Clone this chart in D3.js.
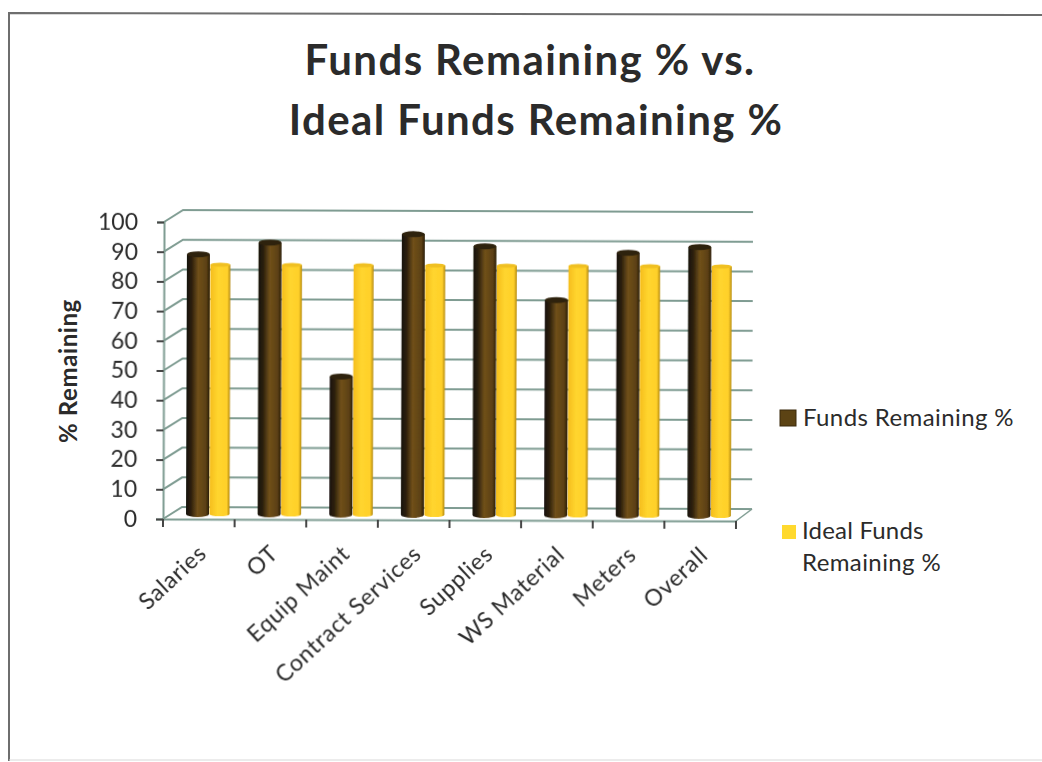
<!DOCTYPE html>
<html>
<head>
<meta charset="utf-8">
<script src="https://cdn.jsdelivr.net/npm/d3@7"></script>
<style>
html, body { margin: 0; padding: 0; background: #fff; }
svg { display: block; }
text { font-family: Lato, "Open Sans", sans-serif; fill: #2b2b2b; }
</style>
</head>
<body>
<script>
const width = 1042;
const height = 762;

const categories = ["Salaries", "OT", "Equip Maint", "Contract Services", "Supplies", "WS Material", "Meters", "Overall"];
const fundsRemaining = [87.5, 91.5, 46.5, 94.5, 90.5, 72.5, 88.5, 90.5];
const idealRemaining = [84, 84, 84, 84, 84, 84, 84, 84];
const yTicks = [0, 10, 20, 30, 40, 50, 60, 70, 80, 90, 100];
const seriesNames = ["Funds Remaining %", "Ideal Funds Remaining %"];

const plotLeft = 163, plotRight = 736, plotBottom = 519, plotTop = 222;
const depthX = 19, depthY = -12;

const svg = d3.select("body").append("svg")
    .attr("width", width)
    .attr("height", height)
    .attr("viewBox", [0, 0, width, height]);

const defs = svg.append("defs");

function addGradient(id, stops) {
    const g = defs.append("linearGradient").attr("id", id);
    stops.forEach(function(s) {
        g.append("stop").attr("offset", s[0]).attr("stop-color", s[1]);
    });
}
addGradient("darkBar", [[0, "#17120a"], [0.22, "#2d200c"], [0.5, "#70501a"], [0.85, "#5c4013"], [1, "#2c1f0a"]]);
addGradient("yellowBar", [[0, "#f5bd1c"], [0.4, "#ffd52e"], [0.85, "#ffd02a"], [1, "#b58a10"]]);

defs.append("filter").attr("id", "soft")
    .append("feGaussianBlur").attr("stdDeviation", 0.45);

// scanned page border
svg.append("path")
    .attr("d", "M9,761 L9,13 L1042,15")
    .attr("fill", "none")
    .attr("stroke", "#6e6e6e")
    .attr("stroke-width", 2);
svg.append("line")
    .attr("x1", 9).attr("x2", 1042).attr("y1", 760).attr("y2", 760)
    .attr("stroke", "#d8d8d8");

// title
svg.append("text")
    .attr("x", 530).attr("y", 75)
    .attr("text-anchor", "middle")
    .attr("font-size", 42).attr("font-weight", 700)
    .attr("letter-spacing", 1.4)
    .text("Funds Remaining % vs.");
svg.append("text")
    .attr("x", 536).attr("y", 135)
    .attr("text-anchor", "middle")
    .attr("font-size", 42).attr("font-weight", 700)
    .attr("letter-spacing", 1.4)
    .text("Ideal Funds Remaining %");

const x = d3.scaleBand().domain(categories).range([plotLeft, plotRight]);
const y = d3.scaleLinear().domain([0, 100]).range([plotBottom, plotTop]);

// the scan is slightly tilted
const plot = svg.append("g")
    .attr("transform", "rotate(0.2 " + plotLeft + " " + plotBottom + ")")
    .attr("filter", "url(#soft)");

const gridColor = "#7f9c92";

// back wall gridlines and the left wall diagonals
plot.selectAll(".grid").data(yTicks).enter().append("path")
    .attr("class", "grid")
    .attr("fill", "none")
    .attr("stroke", gridColor)
    .attr("stroke-width", 2)
    .attr("d", function(d) {
        return "M" + plotLeft + "," + y(d) + "L" + (plotLeft + depthX) + "," + (y(d) + depthY) +
            "L" + (plotRight + 16) + "," + (y(d) + depthY);
    });

// floor edge on the right
plot.append("line")
    .attr("x1", plotRight).attr("y1", plotBottom)
    .attr("x2", plotRight + 16).attr("y2", plotBottom + depthY)
    .attr("stroke", gridColor).attr("stroke-width", 1.5);

const yAxis = d3.axisLeft(y).tickValues(yTicks).tickSize(7).tickPadding(19);
const yG = plot.append("g").attr("transform", "translate(" + plotLeft + ",0)").call(yAxis);
yG.select(".domain").attr("stroke", gridColor).attr("stroke-width", 2);
yG.selectAll(".tick line").attr("stroke", "#444").attr("stroke-width", 2);
yG.selectAll("text").attr("font-size", 23).style("font-family", "Lato, sans-serif").attr("fill", "#2b2b2b");

const xAxis = d3.axisBottom(x).tickValues([]).tickSizeOuter(0);
const xG = plot.append("g").attr("transform", "translate(0," + plotBottom + ")").call(xAxis);
xG.select(".domain").attr("stroke", gridColor).attr("stroke-width", 2);

// tick marks sit on the category boundaries
plot.selectAll(".xtick").data(categories.concat([null])).enter().append("line")
    .attr("class", "xtick")
    .attr("x1", function(d) { return d === null ? plotRight : x(d); })
    .attr("x2", function(d) { return d === null ? plotRight : x(d); })
    .attr("y1", plotBottom)
    .attr("y2", plotBottom + 8)
    .attr("stroke", "#444").attr("stroke-width", 2);

// category labels
plot.selectAll(".cat").data(categories).enter().append("text")
    .attr("class", "cat")
    .attr("text-anchor", "end")
    .attr("font-size", 23)
    .attr("letter-spacing", 0.7)
    .attr("transform", function(d) {
        return "translate(" + (x(d) + 45) + "," + (plotBottom + 36) + ") rotate(-43)";
    })
    .text(function(d) { return d; });

// bars stand in the middle of the depth
const barOffset = -5;

function drawBars(values, cls, dx, w, fill, topFill, ry) {
    const g = plot.selectAll("." + cls).data(values).enter().append("g").attr("class", cls);
    g.append("path")
        .attr("fill", "url(#" + fill + ")")
        .attr("d", function(d, i) {
            const x0 = x(categories[i]) + dx;
            const top = y(d) + barOffset;
            const bottom = y(0) + barOffset;
            return "M" + x0 + "," + top + "L" + x0 + "," + bottom +
                "A" + (w / 2) + "," + ry + " 0 0 0 " + (x0 + w) + "," + bottom +
                "L" + (x0 + w) + "," + top + "Z";
        });
    g.append("ellipse")
        .attr("cx", function(d, i) { return x(categories[i]) + dx + w / 2; })
        .attr("cy", function(d) { return y(d) + barOffset; })
        .attr("rx", w / 2).attr("ry", ry)
        .attr("fill", topFill);
}

drawBars(idealRemaining, "ideal", 46.5, 20, "yellowBar", "#f0c020", 2);
drawBars(fundsRemaining, "funds", 23, 23, "darkBar", "#2f230e", 3);

// y axis title
svg.append("text")
    .attr("transform", "translate(77,371) rotate(-90)")
    .attr("text-anchor", "middle")
    .attr("font-size", 24).attr("font-weight", 700)
    .attr("letter-spacing", 0.6)
    .text("% Remaining");

// legend
svg.append("rect").attr("x", 780).attr("y", 410).attr("width", 16).attr("height", 16)
    .attr("fill", "#5c4314").attr("stroke", "#3a2a0c");
svg.append("text").attr("x", 803).attr("y", 426).attr("font-size", 24)
    .attr("letter-spacing", 0.4)
    .text(seriesNames[0]);

svg.append("rect").attr("x", 782).attr("y", 525).attr("width", 14).attr("height", 14)
    .attr("fill", "#ffd92e");
svg.append("text").attr("x", 802).attr("y", 539).attr("font-size", 24)
    .attr("letter-spacing", 0.2)
    .text("Ideal Funds");
svg.append("text").attr("x", 802).attr("y", 571).attr("font-size", 24)
    .attr("letter-spacing", 0.4)
    .text("Remaining %");
</script>
</body>
</html>
